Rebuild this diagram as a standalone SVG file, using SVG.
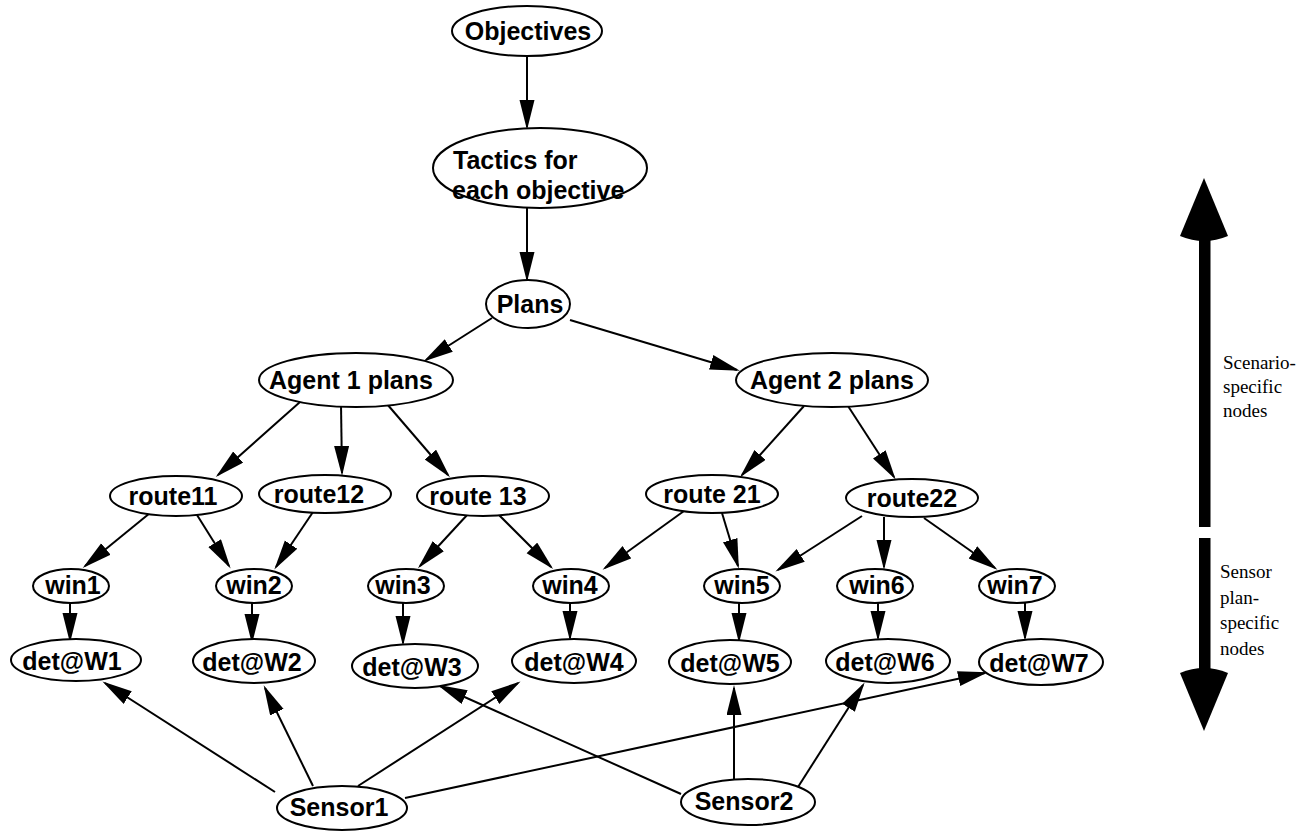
<svg xmlns="http://www.w3.org/2000/svg" width="1308" height="832" viewBox="0 0 1308 832">
<style>
.n{fill:#fff;stroke:#000;stroke-width:2}
.t{font-family:"Liberation Sans",Arial,sans-serif;font-weight:bold;font-size:25px;fill:#000;text-anchor:middle}
.tl{font-family:"Liberation Sans",Arial,sans-serif;font-weight:bold;font-size:25px;fill:#000}
.e line{stroke:#000;stroke-width:2;marker-end:url(#ah)}
.s{font-family:"Liberation Serif","Times New Roman",serif;font-size:19px;fill:#000}
</style>
<defs>
<marker id="ah" markerUnits="userSpaceOnUse" markerWidth="32" markerHeight="16" refX="27" refY="7.5" orient="auto">
<path d="M0,0 L30,7.5 L0,15 Z" fill="#000"/>
</marker>
</defs>
<rect width="1308" height="832" fill="#fff"/>
<g id="edges" class="e">
<line x1="527" y1="57" x2="527" y2="127"/>
<line x1="527" y1="208" x2="527" y2="279"/>
<line x1="492" y1="318" x2="426" y2="360"/>
<line x1="570" y1="320" x2="737" y2="370"/>
<line x1="300" y1="402" x2="218" y2="475"/>
<line x1="341" y1="404" x2="342" y2="473"/>
<line x1="387" y1="404" x2="448" y2="475"/>
<line x1="804" y1="406" x2="742" y2="475"/>
<line x1="848" y1="406" x2="894" y2="477"/>
<line x1="150" y1="513" x2="85" y2="566"/>
<line x1="197" y1="515" x2="229" y2="566"/>
<line x1="313" y1="512" x2="276" y2="567"/>
<line x1="468" y1="514" x2="420" y2="566"/>
<line x1="498" y1="514" x2="551" y2="567"/>
<line x1="684" y1="511" x2="605" y2="568"/>
<line x1="722" y1="513" x2="738" y2="566"/>
<line x1="862" y1="516" x2="778" y2="570"/>
<line x1="884" y1="517" x2="884" y2="567"/>
<line x1="924" y1="518" x2="995" y2="568"/>
<line x1="70" y1="603" x2="70" y2="640"/>
<line x1="252" y1="603" x2="252" y2="641"/>
<line x1="403" y1="603" x2="403" y2="643"/>
<line x1="570" y1="603" x2="570" y2="638"/>
<line x1="739" y1="603" x2="739" y2="640"/>
<line x1="878" y1="603" x2="878" y2="638"/>
<line x1="1025" y1="603" x2="1025" y2="638"/>
<line x1="275" y1="792" x2="105" y2="683"/>
<line x1="313" y1="786" x2="265" y2="688"/>
<line x1="358" y1="786" x2="518" y2="683"/>
<line x1="405" y1="798" x2="985" y2="673"/>
<line x1="681" y1="794" x2="440" y2="686"/>
<line x1="734" y1="779" x2="734" y2="688"/>
<line x1="798" y1="787" x2="863" y2="685"/>
</g>
<g id="objectives"><ellipse class="n" cx="527" cy="31" rx="75" ry="25"/><text class="t" x="528" y="40">Objectives</text></g>
<g id="tactics"><ellipse class="n" cx="540" cy="168" rx="107" ry="40"/><text class="tl" x="453" y="169">Tactics for</text><text class="tl" x="452" y="199">each objective</text></g>
<g id="plans"><ellipse class="n" cx="528" cy="304" rx="42" ry="24"/><text class="t" x="530" y="313">Plans</text></g>
<g id="agent1"><ellipse class="n" cx="356" cy="380" rx="97" ry="27"/><text class="t" x="351" y="389">Agent 1 plans</text></g>
<g id="agent2"><ellipse class="n" cx="832" cy="380" rx="96" ry="27"/><text class="t" x="832" y="389">Agent 2 plans</text></g>
<g id="route11"><ellipse class="n" cx="176" cy="496" rx="66" ry="20"/><text class="t" x="173" y="505">route11</text></g>
<g id="route12"><ellipse class="n" cx="325" cy="494" rx="66" ry="19"/><text class="t" x="319" y="503">route12</text></g>
<g id="route13"><ellipse class="n" cx="483" cy="496" rx="66" ry="20"/><text class="t" x="478" y="505">route 13</text></g>
<g id="route21"><ellipse class="n" cx="712" cy="494" rx="66" ry="19"/><text class="t" x="712" y="503">route 21</text></g>
<g id="route22"><ellipse class="n" cx="912" cy="498" rx="66" ry="19"/><text class="t" x="912" y="507">route22</text></g>
<g id="win1"><ellipse class="n" cx="71" cy="586" rx="38" ry="17"/><text class="t" x="73" y="594">win1</text></g>
<g id="win2"><ellipse class="n" cx="254" cy="586" rx="38" ry="17"/><text class="t" x="254" y="594">win2</text></g>
<g id="win3"><ellipse class="n" cx="406" cy="586" rx="38" ry="17"/><text class="t" x="403" y="594">win3</text></g>
<g id="win4"><ellipse class="n" cx="571" cy="586" rx="38" ry="17"/><text class="t" x="570" y="594">win4</text></g>
<g id="win5"><ellipse class="n" cx="742" cy="586" rx="38" ry="17"/><text class="t" x="742" y="594">win5</text></g>
<g id="win6"><ellipse class="n" cx="875" cy="586" rx="38" ry="17"/><text class="t" x="877" y="594">win6</text></g>
<g id="win7"><ellipse class="n" cx="1017" cy="586" rx="38" ry="17"/><text class="t" x="1015" y="594">win7</text></g>
<g id="detW1"><ellipse class="n" cx="76" cy="660" rx="65" ry="21"/><text class="t" x="72" y="670">det@W1</text></g>
<g id="detW2"><ellipse class="n" cx="254" cy="661" rx="61" ry="22"/><text class="t" x="252" y="671">det@W2</text></g>
<g id="detW3"><ellipse class="n" cx="415" cy="666" rx="63" ry="22"/><text class="t" x="412" y="676">det@W3</text></g>
<g id="detW4"><ellipse class="n" cx="574" cy="661" rx="62" ry="22"/><text class="t" x="574" y="671">det@W4</text></g>
<g id="detW5"><ellipse class="n" cx="730" cy="662" rx="61" ry="22"/><text class="t" x="730" y="672">det@W5</text></g>
<g id="detW6"><ellipse class="n" cx="888" cy="661" rx="62" ry="22"/><text class="t" x="885" y="671">det@W6</text></g>
<g id="detW7"><ellipse class="n" cx="1041" cy="662" rx="62" ry="23"/><text class="t" x="1039" y="672">det@W7</text></g>
<g id="sensor1"><ellipse class="n" cx="342" cy="808" rx="65" ry="22"/><text class="t" x="339" y="816">Sensor1</text></g>
<g id="sensor2"><ellipse class="n" cx="748" cy="802" rx="67" ry="23"/><text class="t" x="744" y="810">Sensor2</text></g>
<g id="scale">
<path d="M1204,178 L1180,236 Q1204,246 1228,236 Z" fill="#000"/>
<rect x="1199" y="238" width="11.5" height="289" fill="#000"/>
<rect x="1199" y="538" width="11.5" height="134" fill="#000"/>
<path d="M1204,731 L1180,673 Q1204,663 1228,673 Z" fill="#000"/>
<text class="s" x="1223" y="369">Scenario-</text>
<text class="s" x="1223" y="393">specific</text>
<text class="s" x="1223" y="417">nodes</text>
<text class="s" x="1220" y="578">Sensor</text>
<text class="s" x="1220" y="604">plan-</text>
<text class="s" x="1220" y="629">specific</text>
<text class="s" x="1220" y="655">nodes</text>
</g>
</svg>
